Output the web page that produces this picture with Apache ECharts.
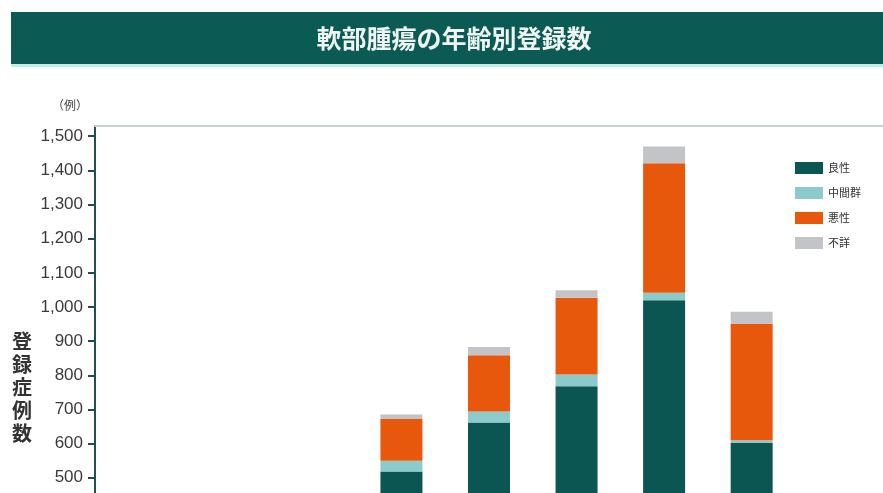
<!DOCTYPE html>
<html>
<head>
<meta charset="utf-8">
<script src="https://cdn.jsdelivr.net/npm/echarts@6/dist/echarts.min.js"></script>
<style>
    html, body {
        margin: 0;
        padding: 0;
        background: #fff;
    }
    .nBox {
        width: 883px;
        height: 493px;
        overflow: hidden;
        position: relative;
    }
    .echarts {
        width: 883px;
        height: 700px;
    }
</style>
</head>
<body>
<div class="nBox">
    <div class="echarts" id="main"></div>
</div>
<script>
// データ
let xData = ['0-9', '10-19', '20-29', '30-39', '40-49', '50-59', '60-69', '70-79', '80-']
let benign = [70, 150, 300, 518, 662, 768, 1020, 602, 180]
let intermediate = [12, 20, 30, 32, 32, 34, 22, 8, 4]
let malignant = [25, 60, 85, 122, 165, 225, 379, 340, 180]
let unknown = [4, 6, 8, 13, 24, 22, 49, 36, 20]
let names = ['良性', '中間群', '悪性', '不詳']
let yTicks = [0, 100, 200, 300, 400, 500, 600, 700, 800, 900, 1000, 1100, 1200, 1300, 1400, 1500]

// 色
let colors = ['#0b5552', '#8ccbcc', '#e8580c', '#c2c4c8']

let myChart = echarts.init(document.getElementById('main'))

let makeSeries = (name, data, color) => {
    return {
        name: name,
        type: 'bar',
        stack: 'total',
        data: data,
        barWidth: 42,
        itemStyle: {
            color: color
        }
    }
}

let option = {
    animation: false,
    backgroundColor: '#fff',
    title: {
        text: '軟部腫瘍の年齢別登録数',
        left: 454,
        top: 26,
        textAlign: 'center',
        padding: 0,
        textStyle: {
            color: '#eef5f3',
            fontSize: 25,
            fontWeight: 'bold',
            fontFamily: 'Noto Sans CJK JP'
        }
    },
    graphic: [
        // 見出しの帯
        {
            type: 'rect',
            z: -1,
            shape: { x: 11, y: 12, width: 880, height: 52 },
            style: { fill: '#0b5a53' }
        },
        {
            type: 'rect',
            z: -1,
            shape: { x: 11, y: 64, width: 880, height: 3 },
            style: { fill: '#c4ebe8' }
        },
        {
            type: 'text',
            left: 52,
            top: 99,
            style: {
                text: '（例）',
                fill: '#444',
                font: '12px "Noto Sans CJK JP"'
            }
        },
        {
            type: 'text',
            left: 12,
            top: 330,
            style: {
                text: '登\n録\n症\n例\n数',
                fill: '#333',
                font: 'bold 20px "Noto Sans CJK JP"',
                lineHeight: 23
            }
        }
    ],
    legend: {
        data: names,
        orient: 'vertical',
        left: 790,
        top: 157,
        icon: 'rect',
        itemWidth: 28,
        itemHeight: 12,
        itemGap: 13,
        textStyle: {
            color: '#333',
            fontSize: 11,
            fontFamily: 'Noto Sans CJK JP'
        }
    },
    grid: {
        left: 95,
        right: 0,
        top: 126,
        bottom: 51.5
    },
    xAxis: [
        {
            type: 'category',
            data: xData,
            axisTick: { show: false },
            axisLine: { lineStyle: { color: '#1f4f4f', width: 2 } },
            axisLabel: { color: '#333', fontSize: 14 }
        },
        {
            // 上の枠線
            type: 'category',
            position: 'top',
            data: xData,
            axisTick: { show: false },
            axisLabel: { show: false },
            axisLine: { lineStyle: { color: '#c8d2d2', width: 2 } }
        }
    ],
    yAxis: {
        type: 'value',
        min: 0,
        max: 1530,
        interval: 100,
        splitLine: { show: false },
        axisLine: {
            show: true,
            lineStyle: { color: '#1f4f4f', width: 2 }
        },
        axisTick: {
            show: true,
            length: 7,
            customValues: yTicks,
            lineStyle: { color: '#1f4f4f', width: 2 }
        },
        axisLabel: {
            customValues: yTicks,
            margin: 12,
            color: '#3a3a3a',
            fontSize: 17,
            fontFamily: 'Liberation Sans',
            formatter: function (v) {
                return v.toLocaleString('en-US')
            }
        }
    },
    series: [
        makeSeries(names[0], benign, colors[0]),
        makeSeries(names[1], intermediate, colors[1]),
        makeSeries(names[2], malignant, colors[2]),
        makeSeries(names[3], unknown, colors[3])
    ]
}

myChart.setOption(option)
window.addEventListener('resize', function () {
    myChart.resize()
})
</script>
</body>
</html>
